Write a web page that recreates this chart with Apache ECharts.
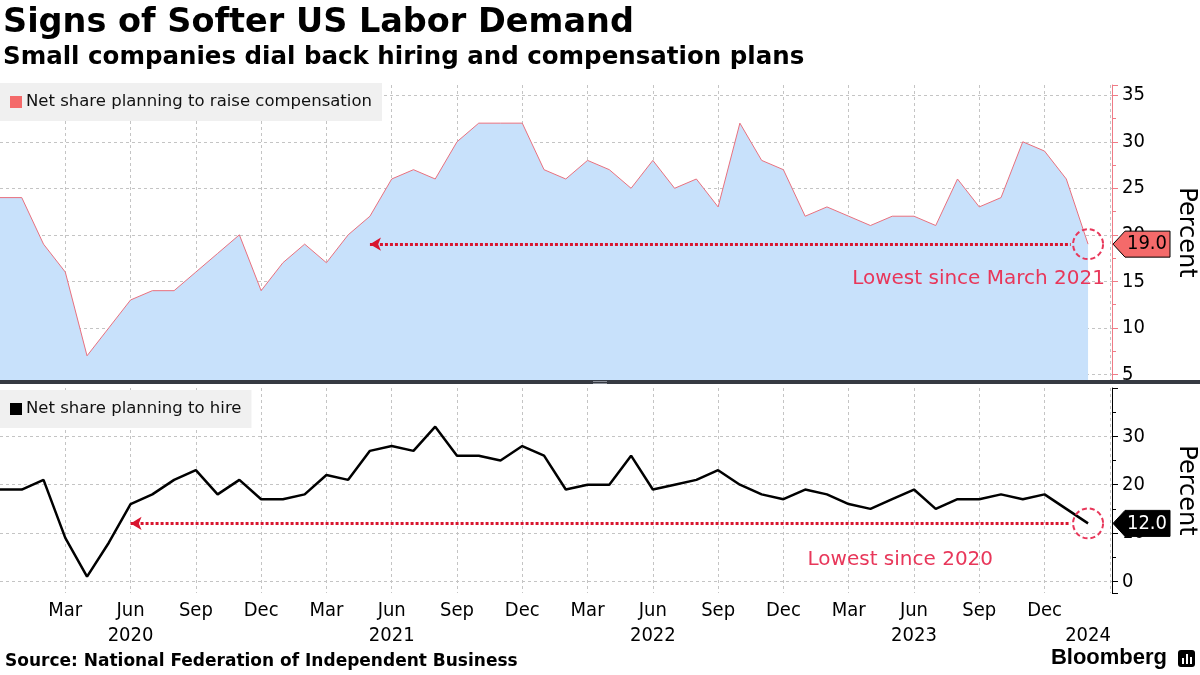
<!DOCTYPE html>
<html>
<head>
<meta charset="utf-8">
<script src="https://cdn.jsdelivr.net/npm/echarts@6/dist/echarts.min.js"></script>
<style>
html,body{margin:0;padding:0;background:#fff;}
#c{width:1200px;height:675px;}
</style>
</head>
<body>
<div id="c"></div>
<script>
// ---- data (monthly, Dec 2019 .. Feb 2024) ----
const monthNames = ['Jan','Feb','Mar','Apr','May','Jun','Jul','Aug','Sep','Oct','Nov','Dec'];
const firstYear = 2019;
const firstMonth = 11; // December
const compensation = [24,
  24,19,16,7,10,13,14,14,16,18,20,14,
  17,19,17,20,22,26,27,26,30,32,32,32,
  27,26,28,27,25,28,25,26,23,32,28,27,
  22,23,22,21,22,22,21,26,23,24,30,29,
  26,19];
const hiring = [19,
  19,21,9,1,8,16,18,21,23,18,21,17,
  17,18,22,21,27,28,27,32,26,26,25,28,
  26,19,20,20,26,19,20,21,23,20,18,17,
  19,18,16,15,17,19,15,17,17,18,17,18,
  15,12];
const compTicks = [5,10,15,20,25,30,35];
const hireTicks = [0,10,20,30];
const compName = 'Net share planning to raise compensation';
const hireName = 'Net share planning to hire';
const compNote = 'Lowest since March 2021';
const hireNote = 'Lowest since 2020';
const compArrowFrom = 17; // May 2021
const hireArrowFrom = 6;  // Jun 2020

const FONT = '"DejaVu Sans", sans-serif';
const FONT_C = '"DejaVu Sans Condensed", "DejaVu Sans", sans-serif';
const RED = '#e8375a';
const DOT = '#d8152f';
const lastIdx = compensation.length - 1;
const xMax = 51.1;

const compData = compensation.map((v, i) => [i, v]);
const hireData = hiring.map((v, i) => [i, v]);

function monthOf(i){ return (firstMonth + i) % 12; }
function yearOf(i){ return firstYear + Math.floor((firstMonth + i) / 12); }

function xLabel(v){
  if (Math.abs(v - Math.round(v)) > 1e-6) return '';
  const i = Math.round(v);
  if (i <= 0 || i > lastIdx) return '';
  const m = monthOf(i), y = yearOf(i);
  if (i === lastIdx) return '\n' + y;
  if (m % 3 === 2) return monthNames[m] + (m === 5 ? '\n' + y : '');
  return '';
}
function tickLabel(list){
  return function(v){
    for (const t of list) if (Math.abs(v - t) < 1e-6) return String(t);
    return '';
  };
}

const chart = echarts.init(document.getElementById('c'), null, {renderer:'canvas'});
const gridLine = {show:true, lineStyle:{color:'#c4c4c4', type:[3,3], width:1}, showMinLine:false, showMaxLine:false};

const option = {
  animation:false,
  backgroundColor:'#fff',
  textStyle:{fontFamily:FONT},
  title:[
    {text:'Signs of Softer US Labor Demand', left:3, top:6, padding:0,
     textStyle:{fontFamily:FONT, fontWeight:'bold', fontSize:33.5, color:'#000'}},
    {text:'Small companies dial back hiring and compensation plans', left:3, top:45, padding:0,
     textStyle:{fontFamily:FONT, fontWeight:'bold', fontSize:24.5, color:'#000'}},
    {text:'Source: National Federation of Independent Business', left:5, top:653, padding:0,
     textStyle:{fontFamily:FONT, fontWeight:'bold', fontSize:17, color:'#000'}},
    {text:'Bloomberg', right:33, top:647, padding:0,
     textStyle:{fontFamily:'"Liberation Sans", Arial, sans-serif', fontWeight:'bold', fontSize:22, color:'#000'}}
  ],
  legend:[
    {left:0, top:83, padding:[10,10,10,10], backgroundColor:'#f0f0f0', itemWidth:12, itemHeight:12, itemGap:4,
     selectedMode:false,
     data:[{name:compName, icon:'rect', itemStyle:{color:'#f46a6a', borderWidth:0}}],
     textStyle:{fontFamily:FONT, fontSize:16.5, color:'#111', lineHeight:18, padding:[0,0,0,-1]}},
    {left:0, top:390, padding:[10,10,10,10], backgroundColor:'#f0f0f0', itemWidth:12, itemHeight:12, itemGap:4,
     selectedMode:false,
     data:[{name:hireName, icon:'rect', itemStyle:{color:'#000', borderWidth:0}}],
     textStyle:{fontFamily:FONT, fontSize:16.5, color:'#111', lineHeight:18, padding:[0,0,0,-1]}}
  ],
  grid:[
    {left:0, right:88, top:85, height:295, outerBoundsMode:'none', containLabel:false},
    {left:0, right:88, top:388, height:205, outerBoundsMode:'none', containLabel:false}
  ],
  xAxis:[
    {type:'value', gridIndex:0, min:0, max:xMax, interval:3, z:3,
     axisLine:{show:false, onZero:false}, axisTick:{show:false}, axisLabel:{show:false}, splitLine:gridLine},
    {type:'value', gridIndex:1, min:0, max:xMax, interval:1,
     axisLine:{show:false, onZero:false}, axisTick:{show:false}, splitLine:{show:false},
     axisLabel:{show:true, formatter:xLabel, fontFamily:FONT_C, fontSize:20, color:'#000', lineHeight:25, margin:5}},
    {type:'value', gridIndex:1, min:0, max:xMax, interval:3,
     axisLine:{show:false, onZero:false}, axisTick:{show:false}, axisLabel:{show:false}, splitLine:gridLine}
  ],
  yAxis:[
    {type:'value', gridIndex:0, position:'right', min:4.4, max:36.1, splitNumber:6, z:3,
     name:'Percent', nameLocation:'middle', nameRotate:-90, nameGap:62,
     nameTextStyle:{fontFamily:FONT, fontSize:24, color:'#000'},
     axisLine:{show:true, onZero:false, lineStyle:{color:'#f07b86', width:1}},
     axisTick:{show:true, length:6, lineStyle:{color:'#f07b86'}},
     minorTick:{show:true, splitNumber:2, length:4, lineStyle:{color:'#f07b86'}},
     axisLabel:{formatter:tickLabel(compTicks), fontFamily:FONT_C, fontSize:20, color:'#000', margin:10},
     splitLine:gridLine},
    {type:'value', gridIndex:1, position:'right', min:-2.4, max:40, splitNumber:5,
     name:'Percent', nameLocation:'middle', nameRotate:-90, nameGap:62,
     nameTextStyle:{fontFamily:FONT, fontSize:24, color:'#000'},
     axisLine:{show:true, onZero:false, lineStyle:{color:'#000', width:1}},
     axisTick:{show:true, length:6, lineStyle:{color:'#000'}},
     minorTick:{show:true, splitNumber:2, length:4, lineStyle:{color:'#000'}},
     axisLabel:{formatter:tickLabel(hireTicks), fontFamily:FONT_C, fontSize:20, color:'#000', margin:10},
     splitLine:gridLine}
  ],
  series:[
    {name:compName, type:'line', xAxisIndex:0, yAxisIndex:0, data:compData, symbol:'none',
     itemStyle:{color:'#f46a6a'},
     lineStyle:{color:'#e8707e', width:1},
     areaStyle:{color:'#c8e1fb', opacity:1, origin:'start'},
     markLine:{silent:true, symbol:['arrow','none'], symbolSize:[10,11], label:{show:false},
       lineStyle:{color:DOT, width:3, type:[3,2]},
       data:[[{coord:[compArrowFrom, compensation[lastIdx]]},{coord:[lastIdx-0.8, compensation[lastIdx]]}]]},
     markPoint:{silent:true, symbol:'circle', symbolSize:30, label:{show:false},
       itemStyle:{color:'rgba(0,0,0,0)', borderColor:RED, borderWidth:2, borderType:[5,3]},
       data:[{coord:[lastIdx, compensation[lastIdx]]}]}
    },
    {name:hireName, type:'line', xAxisIndex:2, yAxisIndex:1, data:hireData, symbol:'none',
     itemStyle:{color:'#000'},
     lineStyle:{color:'#000', width:2.5},
     markLine:{silent:true, symbol:['arrow','none'], symbolSize:[10,11], label:{show:false},
       lineStyle:{color:DOT, width:3, type:[3,2]},
       data:[[{coord:[hireArrowFrom, hiring[lastIdx]]},{coord:[lastIdx-0.8, hiring[lastIdx]]}]]},
     markPoint:{silent:true, symbol:'circle', symbolSize:30, label:{show:false},
       itemStyle:{color:'rgba(0,0,0,0)', borderColor:RED, borderWidth:2, borderType:[5,3]},
       data:[{coord:[lastIdx, hiring[lastIdx]]}]}
    }
  ]
};
chart.setOption(option);

// ---- annotations placed through the chart's own scales ----
function tag(axisX, y, text, fill, color){
  return [
    {type:'polygon', z:10, shape:{points:[[axisX+1,y],[axisX+13,y-13],[axisX+58,y-13],[axisX+58,y+13],[axisX+13,y+13]]},
     style:{fill:fill, stroke:'#000', lineWidth:1}},
    {type:'text', z:11, x:axisX+35, y:y, style:{text:text, fill:color, font:'20px ' + FONT_C, align:'center', verticalAlign:'middle'}}
  ];
}
const pc = chart.convertToPixel({xAxisIndex:0, yAxisIndex:0}, [lastIdx, compensation[lastIdx]]);
const ac = chart.convertToPixel({xAxisIndex:0, yAxisIndex:0}, [xMax, compensation[lastIdx]]);
const ph = chart.convertToPixel({xAxisIndex:2, yAxisIndex:1}, [lastIdx, hiring[lastIdx]]);
const ah = chart.convertToPixel({xAxisIndex:2, yAxisIndex:1}, [xMax, hiring[lastIdx]]);
const sepY = chart.convertToPixel({xAxisIndex:0, yAxisIndex:0}, [0, 4.4])[1];

const graphics = [
  {type:'rect', z:20, shape:{x:0, y:sepY, width:1200, height:4}, style:{fill:'#363a42'}},
  {type:'rect', z:21, shape:{x:593, y:sepY+1, width:14, height:1}, style:{fill:'#8a8f99'}},
  {type:'rect', z:21, shape:{x:593, y:sepY+3, width:14, height:1}, style:{fill:'#8a8f99'}},
  {type:'text', z:11, x:ac[0]-7, y:pc[1]+35, style:{text:compNote, fill:RED, font:'20px ' + FONT, align:'right', verticalAlign:'middle'}},
  {type:'text', z:11, x:ph[0]-95, y:ph[1]+36, style:{text:hireNote, fill:RED, font:'20px ' + FONT, align:'right', verticalAlign:'middle'}},
  ...tag(ac[0], pc[1], compensation[lastIdx].toFixed(1), '#f46a6a', '#000'),
  ...tag(ah[0], ph[1], hiring[lastIdx].toFixed(1), '#000', '#fff'),
  // Bloomberg mark
  {type:'rect', z:10, shape:{x:1178, y:650, width:17, height:17, r:3}, style:{fill:'#000'}},
  {type:'rect', z:11, shape:{x:1182, y:658, width:2, height:6}, style:{fill:'#fff'}},
  {type:'rect', z:11, shape:{x:1186, y:654, width:2, height:10}, style:{fill:'#fff'}},
  {type:'rect', z:11, shape:{x:1190, y:657, width:2, height:7}, style:{fill:'#fff'}}
];
chart.setOption({graphic:graphics});
</script>
</body>
</html>
